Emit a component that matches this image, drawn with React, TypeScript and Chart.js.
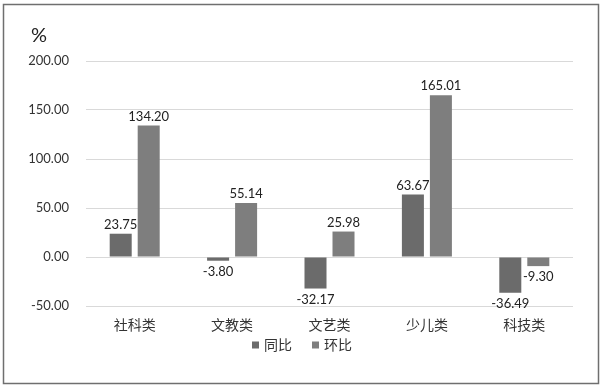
import React, { useEffect, useRef } from "react";
import { Chart, registerables } from "chart.js";

Chart.register(...registerables);

const categories = ["社科类", "文教类", "文艺类", "少儿类", "科技类"];
const yoyValues = [23.75, -3.8, -32.17, 63.67, -36.49];
const momValues = [134.2, 55.14, 25.98, 165.01, -9.3];
const seriesNames = ["同比", "环比"];

const FONT = "Lato, 'Noto Sans CJK SC', sans-serif";
const CJK = "'Noto Sans CJK SC', sans-serif";

const extras = {
  id: "extras",
  beforeDraw(chart: any) {
    const ctx = chart.ctx;
    ctx.save();
    ctx.fillStyle = "#ffffff";
    ctx.fillRect(0, 0, chart.width, chart.height);
    ctx.restore();
  },
  afterDatasetsDraw(chart: any) {
    const ctx = chart.ctx;
    ctx.save();
    ctx.font = "13px " + FONT;
    ctx.fillStyle = "#222222";
    ctx.textAlign = "center";
    ctx.textBaseline = "middle";
    chart.data.datasets.forEach((ds: any, di: number) => {
      const meta = chart.getDatasetMeta(di);
      meta.data.forEach((el: any, i: number) => {
        const v = ds.data[i];
        const y = v >= 0 ? el.y - 9 : el.y + 11;
        ctx.fillText(v.toFixed(2), el.x, y);
      });
    });
    ctx.restore();
  },
  afterDraw(chart: any) {
    const ctx = chart.ctx;
    ctx.save();
    // unit label
    ctx.font = "20px " + FONT;
    ctx.fillStyle = "#222222";
    ctx.textAlign = "left";
    ctx.textBaseline = "middle";
    ctx.fillText("%", 31, 36);
    // legend
    ctx.font = "14px " + CJK;
    const box = 7;
    const gapText = 5;
    const gapItem = 20;
    const items = chart.data.datasets.map((ds: any) => ({
      label: ds.label,
      color: ds.backgroundColor,
      w: box + gapText + ctx.measureText(ds.label).width,
    }));
    const total = items.reduce((s: number, it: any) => s + it.w, 0) + gapItem * (items.length - 1);
    let x = 302 - total / 2;
    const cy = 345;
    items.forEach((it: any) => {
      ctx.fillStyle = it.color;
      ctx.fillRect(x, cy - box / 2, box, box);
      ctx.fillStyle = "#333333";
      ctx.fillText(it.label, x + box + gapText, cy);
      x += it.w + gapItem;
    });
    // frame
    ctx.strokeStyle = "#6f6f6f";
    ctx.lineWidth = 1.5;
    ctx.strokeRect(3.5, 4.5, 595, 379);
    ctx.restore();
  },
};

export default function App() {
  const ref = useRef<HTMLCanvasElement>(null);
  useEffect(() => {
    document.body.style.margin = "0";
    const chart = new Chart(ref.current!, {
      type: "bar",
      data: {
        labels: categories,
        datasets: [
          {
            label: seriesNames[0],
            data: yoyValues,
            backgroundColor: "#6b6b6b",
            categoryPercentage: 0.575,
            barPercentage: 0.786,
          },
          {
            label: seriesNames[1],
            data: momValues,
            backgroundColor: "#7e7e7e",
            borderWidth: 0,
            categoryPercentage: 0.575,
            barPercentage: 0.786,
          },
        ],
      },
      options: {
        animation: false,
        responsive: false,
        devicePixelRatio: 1,
        layout: { padding: { top: 61, right: 30, bottom: 54, left: 0 } },
        plugins: {
          tooltip: { enabled: false },
          legend: { display: false },
        },
        scales: {
          x: {
            grid: { display: false, drawTicks: false },
            border: { display: false },
            ticks: {
              font: { family: CJK, size: 14 },
              color: "#333333",
              padding: 10,
              autoSkip: false,
              maxRotation: 0,
            },
            afterFit(scale: any) {
              scale.height = 29;
            },
          },
          y: {
            min: -50,
            max: 200,
            grid: { color: "#d9d9d9", drawTicks: false },
            border: { display: false },
            ticks: {
              stepSize: 50,
              font: { family: FONT, size: 13 },
              color: "#333333",
              padding: 17,
              callback: (v: any) => Number(v).toFixed(2),
            },
            afterFit(scale: any) {
              scale.width = 86;
            },
          },
        },
      },
      plugins: [extras],
    });
    return () => chart.destroy();
  }, []);
  return <canvas ref={ref} width={603} height={389} style={{ display: "block" }} />;
}
